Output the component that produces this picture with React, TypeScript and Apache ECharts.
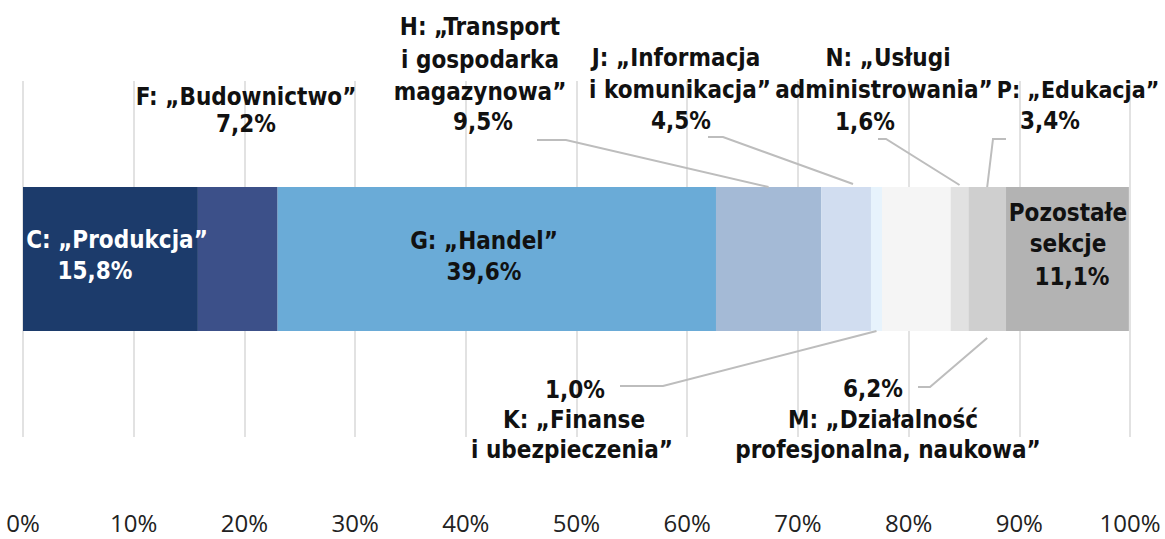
import React, { useEffect, useRef } from "react";
import * as echarts from "echarts";

const sections = ["C", "F", "G", "H", "J", "K", "M", "N", "P", "R"];
const values = [15.8, 7.2, 39.6, 9.5, 4.5, 1.0, 6.2, 1.6, 3.4, 11.1];
const colors = ["#1c3b6b", "#3c5089", "#6aabd7", "#a4bad6", "#d1ddf0", "#e7f3fc", "#f5f5f5", "#e1e1e1", "#cfcfcf", "#b3b3b3"];
const tickValues = [0, 10, 20, 30, 40, 50, 60, 70, 80, 90, 100];

// label texts (lines) per section
const labelLines: Record<string, string[]> = {
  C: ["C: „Produkcja”", "15,8%"],
  F: ["F: „Budownictwo”", "7,2%"],
  G: ["G: „Handel”", "39,6%"],
  H: ["H: „Transport", "i gospodarka", "magazynowa”", "9,5%"],
  J: ["J: „Informacja", "i komunikacja”", "4,5%"],
  K: ["1,0%", "K: „Finanse", "i ubezpieczenia”"],
  M: ["6,2%", "M: „Działalność", "profesjonalna, naukowa”"],
  N: ["N: „Usługi", "administrowania”", "1,6%"],
  P: ["P: „Edukacja”", "3,4%"],
  R: ["Pozostałe", "sekcje", "11,1%"],
};

// layout: x center, y center of each line, font size
const labelLayout: Record<string, { x: number[]; y: number[]; color: string; size?: number }> = {
  C: { x: [117, 95], y: [240, 271], color: "#ffffff" },
  F: { x: [246, 246], y: [97, 124], color: "#111111" },
  G: { x: [484, 484], y: [241, 272], color: "#111111" },
  H: { x: [480, 480, 480, 483], y: [27, 60, 92, 122], color: "#111111" },
  J: { x: [676, 680, 681], y: [58, 90, 121], color: "#111111" },
  K: { x: [575, 574, 572], y: [390, 420, 450], color: "#111111" },
  M: { x: [873, 883, 888], y: [389, 420, 450], color: "#111111" },
  N: { x: [888, 884, 865], y: [58, 90, 122], color: "#111111" },
  P: { x: [1078, 1050], y: [90, 121], color: "#111111", size: 23 },
  R: { x: [1068, 1068, 1072], y: [213, 244, 277], color: "#111111" },
};

// leader lines: label-side start, knee, then target segment (index, fraction, side, extra offset)
const leaders = [
  { pts: [[537, 140], [566, 140]], seg: 3, frac: 0.5, side: "top", dy: 0 },
  { pts: [[708, 137], [723, 137]], seg: 4, frac: 0.64, side: "top", dy: -3 },
  { pts: [[878, 139], [886, 139]], seg: 7, frac: 0.5, side: "top", dy: -2 },
  { pts: [[1006, 139], [993, 139]], seg: 8, frac: 0.5, side: "top", dy: 0 },
  { pts: [[620, 386], [663, 386]], seg: 5, frac: 0.5, side: "bottom", dy: 0 },
  { pts: [[918, 387], [930, 387]], seg: 8, frac: 0.5, side: "bottom", dy: 7 },
];

const FONT = "'Liberation Sans Narrow', 'DejaVu Sans Condensed', sans-serif";
const BAR_W = 144;

export default function App() {
  const ref = useRef<HTMLDivElement>(null);
  useEffect(() => {
    if (!ref.current) return;
    const chart = echarts.init(ref.current, undefined, { renderer: "svg" });
    const series = sections.map((s, i) => ({
      name: s,
      type: "bar",
      stack: "total",
      barWidth: BAR_W,
      data: [values[i]],
      itemStyle: { color: colors[i] },
      emphasis: { disabled: true },
    }));
    chart.setOption({
      animation: false,
      grid: { left: 23, right: 35, top: 81, bottom: 102 },
      xAxis: {
        type: "value",
        min: 0,
        max: 100,
        interval: 10,
        axisLine: { show: false },
        axisTick: { show: false },
        splitLine: { show: true, lineStyle: { color: "#e2e2e2", width: 2 } },
        axisLabel: {
          formatter: (v: number) => (tickValues.includes(v) ? v + "%" : ""),
          fontFamily: "'Open Sans', sans-serif",
          fontSize: 24,
          lineHeight: 20,
          color: "#222222",
          margin: 75,
        },
      },
      yAxis: {
        type: "category",
        data: ["Sekcje"],
        show: false,
      },
      series,
    });

    const cum: number[] = [];
    let acc = 0;
    values.forEach((v) => {
      cum.push(acc);
      acc += v;
    });
    const yc = chart.convertToPixel({ yAxisIndex: 0 }, "Sekcje") as number;
    const top = yc - BAR_W / 2;
    const bottom = yc + BAR_W / 2;

    const graphics: any[] = [];
    leaders.forEach((l) => {
      const v = cum[l.seg] + values[l.seg] * l.frac;
      const px = chart.convertToPixel({ xAxisIndex: 0 }, v) as number;
      const py = (l.side === "top" ? top : bottom) + l.dy;
      graphics.push({
        type: "polyline",
        silent: true,
        shape: { points: [...l.pts, [px, py]] },
        style: { stroke: "#bdbdbd", lineWidth: 2, fill: null },
        z: 10,
      });
    });
    sections.forEach((s) => {
      const lines = labelLines[s];
      const lay = labelLayout[s];
      lines.forEach((t, i) => {
        graphics.push({
          type: "text",
          silent: true,
          x: lay.x[i],
          y: lay.y[i],
          z: 20,
          style: {
            text: t,
            fill: lay.color,
            font: `bold ${i === 0 && lay.size ? lay.size : 24}px ${FONT}`,
            textAlign: "center",
            textVerticalAlign: "middle",
          },
        });
      });
    });
    chart.setOption({ graphic: graphics });

    return () => chart.dispose();
  }, []);
  return <div ref={ref} style={{ width: 1165, height: 539, position: "absolute", left: 0, top: 0 }} />;
}
